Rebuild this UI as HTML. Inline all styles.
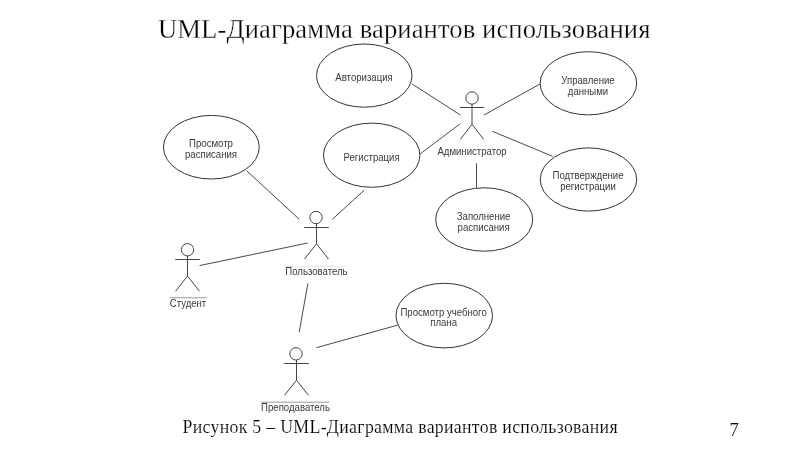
<!DOCTYPE html>
<html><head><meta charset="utf-8">
<style>
html,body{margin:0;padding:0;background:#fff;}
body{width:800px;height:450px;overflow:hidden;position:relative;}
svg{position:absolute;left:0;top:0;filter:blur(0.35px);}
.t{font-family:"Liberation Serif",serif;fill:#000;stroke:#fff;stroke-width:0.3px;}
.s{font-family:"Liberation Sans",sans-serif;fill:#3a3a3a;font-size:10px;}
.l{stroke:#4a4a4a;stroke-width:1;fill:none;}
.e{stroke:#333;stroke-width:1;fill:none;}
.a{stroke:#444;stroke-width:1;fill:none;}
</style></head><body>
<svg width="800" height="450" viewBox="0 0 800 450">
<text class="t" x="158" y="37.5" font-size="26.67" letter-spacing="0.08">UML-Диаграмма вариантов использования</text>
<text class="t" style="stroke-width:0.15px" x="182.5" y="432.8" font-size="17.8" letter-spacing="0.3">Рисунок 5 – UML-Диаграмма вариантов использования</text>
<text class="t" style="stroke-width:0.15px" x="729.5" y="436" font-size="18.7">7</text>

<!-- ellipses -->
<ellipse class="e" cx="364.25" cy="75.6" rx="47.75" ry="31.6"/>
<ellipse class="e" cx="588.4" cy="83.3" rx="48.3" ry="31.6"/>
<ellipse class="e" cx="371.7" cy="155.2" rx="48.2" ry="32.1"/>
<ellipse class="e" cx="588.5" cy="179.5" rx="48.2" ry="31.6"/>
<ellipse class="e" cx="484.2" cy="219.5" rx="48.5" ry="31.7"/>
<ellipse class="e" cx="211.35" cy="147.2" rx="47.9" ry="31.8"/>
<ellipse class="e" cx="444.25" cy="315.6" rx="48.25" ry="32.3"/>

<!-- ellipse text -->
<g class="s" text-anchor="middle">
<text transform="translate(364 80.60) scale(0.96 1)">Авторизация</text>
<text transform="translate(588 83.50) scale(0.96 1)">Управление</text>
<text transform="translate(588 94.50) scale(0.96 1)">данными</text>
<text transform="translate(371.6 160.60) scale(0.96 1)">Регистрация</text>
<text transform="translate(588 179.35) scale(0.96 1)">Подтверждение</text>
<text transform="translate(588 190.20) scale(0.96 1)">регистрации</text>
<text transform="translate(483.6 219.90) scale(0.96 1)">Заполнение</text>
<text transform="translate(483.6 230.80) scale(0.96 1)">расписания</text>
<text transform="translate(211 147.10) scale(0.96 1)">Просмотр</text>
<text transform="translate(211 157.50) scale(0.96 1)">расписания</text>
<text transform="translate(443.6 315.60) scale(0.96 1)">Просмотр учебного</text>
<text transform="translate(443.6 326.30) scale(0.96 1)">плана</text>
<text transform="translate(472 155.10) scale(0.96 1)">Администратор</text>
<text transform="translate(316.4 274.90) scale(0.96 1)">Пользователь</text>
<text transform="translate(188 306.70) scale(0.96 1)">Студент</text>
<text transform="translate(295.5 411.20) scale(0.96 1)">Преподаватель</text>
</g>

<!-- actors -->
<g class="a">
<circle cx="472" cy="98" r="6.2"/>
<path d="M460 107.5H484.2M472 104.2V124.30L460.4 139.40M472 124.30L483.6 139.40"/>
<circle cx="316" cy="217.5" r="6.2"/>
<path d="M304.2 227.5H328.8M316.5 223.50V243.80L304.5 259.00M316.5 243.80L328.5 259.00"/>
<circle cx="187.5" cy="249.75" r="6.2"/>
<path d="M175.2 259.5H199.8M187.5 255.75V276.05L175.5 291.25M187.5 276.05L199.5 291.25"/>
<circle cx="296" cy="353.85" r="6.2"/>
<path d="M284.2 363.5H308.8M296.5 359.85V380.15L284.5 395.35M296.5 380.15L308.5 395.35"/>
</g>
<!-- label overlines -->
<path d="M169.8 297.8H206.6M261.2 402.2H329.3" stroke="#999" stroke-width="1"/>
<path d="M285.5 266.4H347.3" stroke="#e6e6e6" stroke-width="1"/>

<!-- association lines -->
<g class="l">
<path d="M411.7 83.7L460.3 115"/>
<path d="M484 115L540 84"/>
<path d="M419.9 154.1L460.3 123.7"/>
<path d="M492.6 131.4L552.8 156.4"/>
<path d="M476.5 163.3V187.8"/>
<path d="M246.5 170.6L299.3 219.3"/>
<path d="M364.3 190.1L332.3 219.3"/>
<path d="M199.5 265.6L307.7 243"/>
<path d="M307.9 283.3L299.2 332.2"/>
<path d="M316.4 347.7L397.8 325.1"/>
</g>
</svg>
</body></html>
